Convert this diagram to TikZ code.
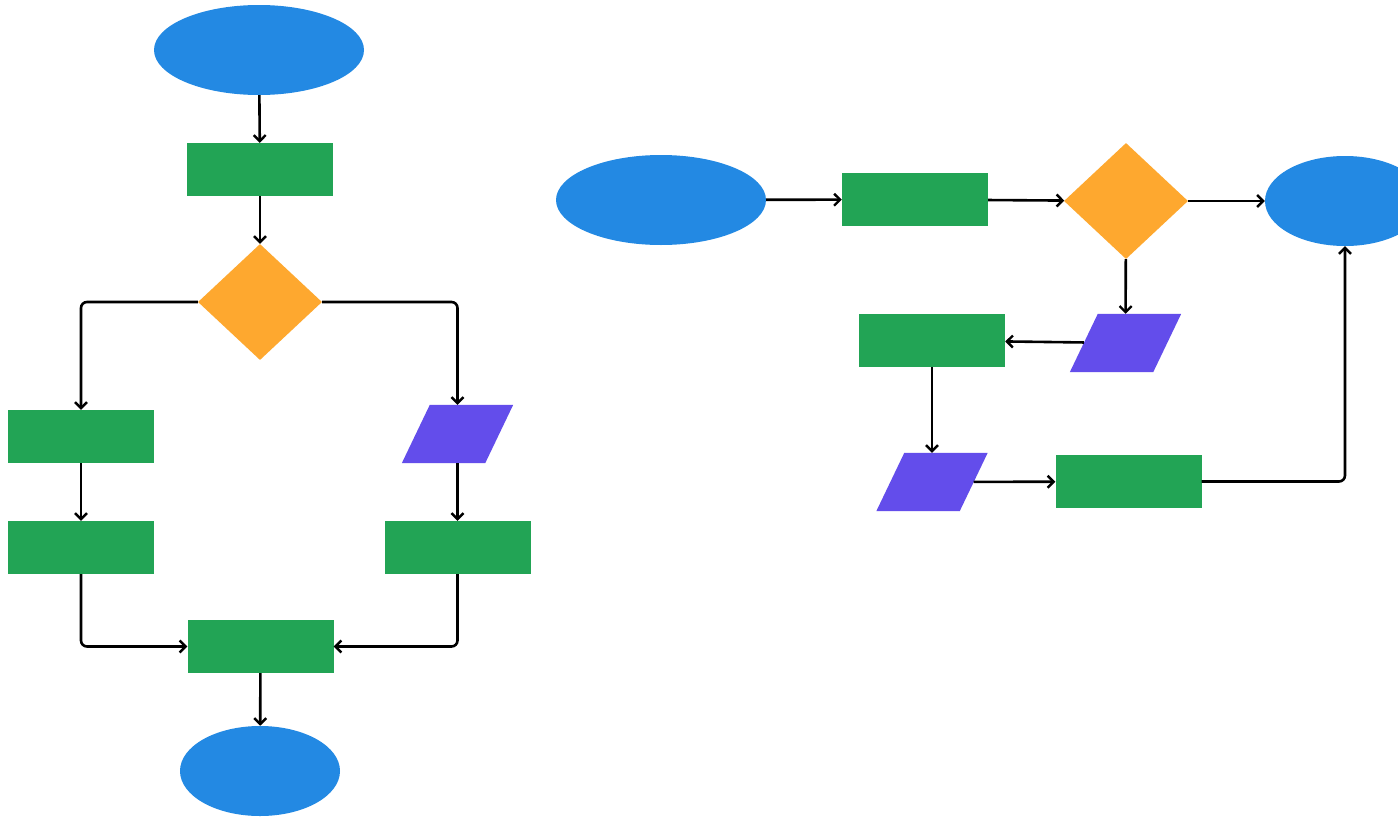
\documentclass[tikz,border=0pt]{standalone}
\usetikzlibrary{shapes.geometric,arrows.meta}
\definecolor{cblue}{HTML}{2389E3}
\definecolor{cgreen}{HTML}{22A455}
\definecolor{corange}{HTML}{FEA82F}
\definecolor{cpurple}{HTML}{634DEB}
\newcommand{\iofill}[1]{\fill[cpurple] ([xshift=-14pt]#1.south west) -- ([xshift=14pt]#1.north west) -- ([xshift=14pt]#1.north east) -- ([xshift=-14pt]#1.south east) -- cycle;}
\begin{document}
\begin{tikzpicture}[x=1pt,y=-1pt,
  term/.style={ellipse,fill=cblue,draw=none,minimum width=210pt,minimum height=90pt,inner sep=0},
  sterm/.style={term,minimum width=160pt},
  proc/.style={rectangle,fill=cgreen,minimum width=146pt,minimum height=53pt,inner sep=0},
  dec/.style={diamond,fill=corange,minimum width=124pt,minimum height=116pt,inner sep=0},
  io/.style={rectangle,minimum width=83pt,minimum height=58pt,inner sep=0},
  conn/.style={draw=black,line width=2.6pt,rounded corners=6pt,-{Straight Barb[length=6pt,width=12pt,line width=2.4pt]}}]
\useasboundingbox[fill=white] (0,0) rectangle (1398,825);
% left flowchart
\node[term] (s) at (259,50) {};
\node[proc] (p1) at (260,169.5) {};
\node[dec] (d) at (260,302) {};
\node[proc] (l1) at (81,436.5) {};
\node[io] (io1) at (457.5,434) {};
\iofill{io1}
\node[proc] (l2) at (81,547.5) {};
\node[proc] (r2) at (457.5,547.5) {};
\node[proc] (b) at (260.5,646.5) {};
\node[sterm] (e) at (260,771) {};
\draw[conn] (s) -- (p1);
\draw[conn] (p1) -- (d);
\draw[conn] (d.west) -| (l1.north);
\draw[conn] (d.east) -| (io1.north);
\draw[conn] (l1) -- (l2);
\draw[conn] (io1) -- (r2);
\draw[conn] (l2.south) |- (b.west);
\draw[conn] (r2.south) |- (b.east);
\draw[conn] (b) -- (e);
% right flowchart
\node[term] (s2) at (661,200) {};
\node[proc] (q1) at (915,199.5) {};
\node[dec] (d2) at (1126,201) {};
\node[sterm] (e2) at (1345,201) {};
\node[io] (io2) at (1125.5,343) {};
\iofill{io2}
\node[proc] (q2) at (932,340.5) {};
\node[io] (io3) at (932,482) {};
\iofill{io3}
\node[proc] (q3) at (1128.5,481.5) {};
\draw[conn] (s2) -- (q1);
\draw[conn] (q1) -- (d2);
\draw[conn] (d2) -- (e2);
\draw[conn] (d2) -- (io2);
\draw[conn] (io2) -- (q2);
\draw[conn] (q2) -- (io3);
\draw[conn] (io3) -- (q3);
\draw[conn] (q3.east) -| (e2.south);
\end{tikzpicture}
\end{document}
